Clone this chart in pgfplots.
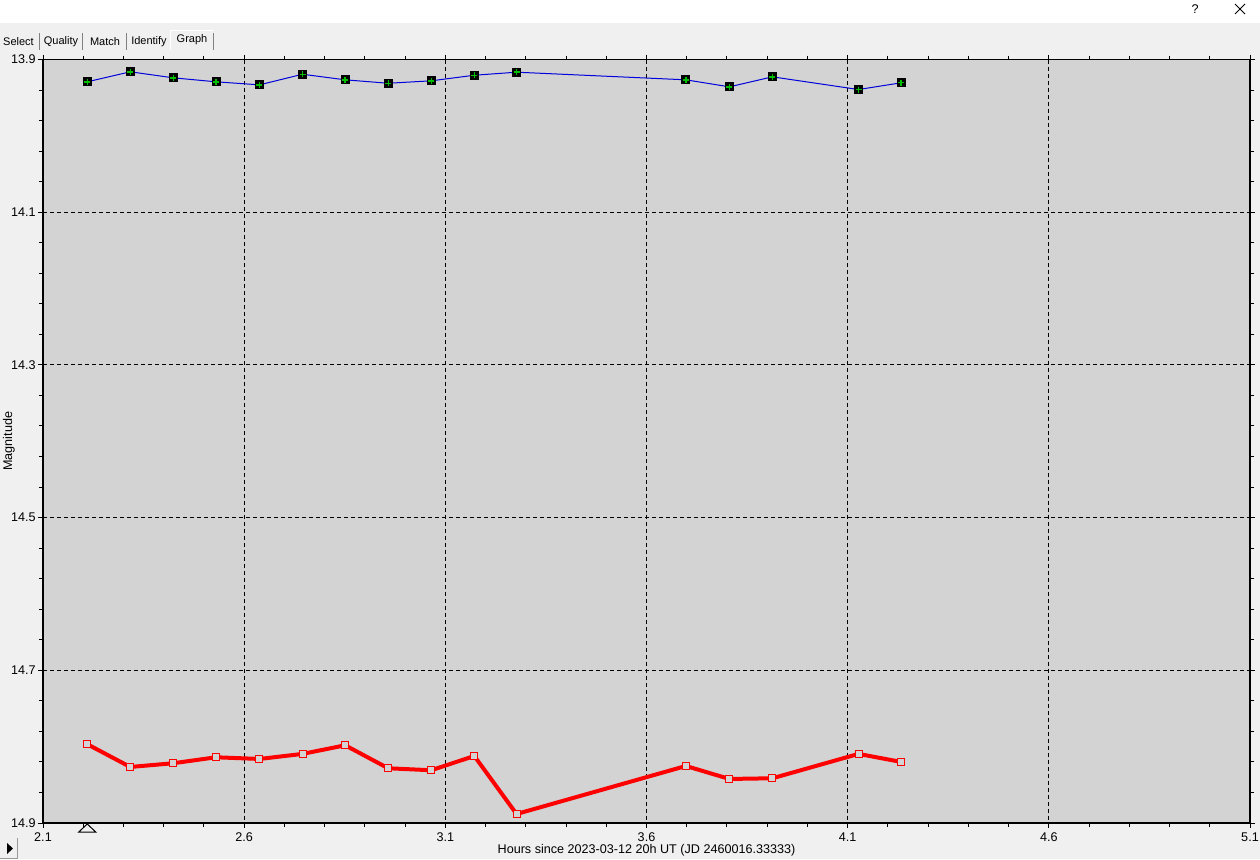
\documentclass[border=0pt]{standalone}
\usepackage{fontspec}
\setmainfont{Liberation Sans}
\usepackage{pgfplots}
\pgfplotsset{compat=1.18}

\definecolor{winbg}{RGB}{240,240,240}
\definecolor{plotbg}{RGB}{211,211,211}
\definecolor{markgreen}{RGB}{0,190,0}
\definecolor{lineblue}{RGB}{0,0,220}

% measured star magnitudes (x = hours, y = mag)
\pgfplotstableread{
x y
2.210 13.9292
2.317 13.9161
2.424 13.9240
2.530 13.9292
2.638 13.9332
2.745 13.9193
2.851 13.9266
2.958 13.9311
3.065 13.9279
3.172 13.9206
3.277 13.9166
3.698 13.9266
3.806 13.9358
3.913 13.9227
4.127 13.9393
4.233 13.9305
}\compstar
\pgfplotstableread{
x y
2.210 14.7968
2.317 14.8266
2.424 14.8217
2.530 14.8139
2.638 14.8161
2.745 14.8095
2.851 14.7982
2.958 14.8283
3.065 14.8309
3.172 14.8122
3.277 14.8882
3.698 14.8253
3.806 14.8423
3.913 14.8414
4.127 14.8095
4.233 14.8200
}\target

\begin{document}
\begin{tikzpicture}[x=0.5pt,y=0.5pt,font=\fontsize{6.3}{7.5}\selectfont]
\useasboundingbox (0,0) rectangle (1260,859);
\fill[winbg] (0,0) rectangle (1260,859);
\fill[white] (0,836) rectangle (1260,859);
% window chrome
\node at (1195,850) {?};
\draw[line width=0.5pt] (1235,845) -- (1245,855) (1235,855) -- (1245,845);
\begin{scope}[font=\fontsize{5.5}{6.6}\selectfont, inner sep=0pt]
\node at (18.5,817) {Select};
\node at (61,817) {Quality};
\node at (105,817) {Match};
\node at (149,817) {Identify};
\node at (192,819) {Graph};
\end{scope}
\foreach \sx in {39,82,126,213} \draw[gray,line width=0.5pt] (\sx,809) -- (\sx,826);
\draw[white,line width=0.5pt] (170,809) -- (170,828) -- (213,828);
% small button bottom left
\fill[winbg] (0,0) rectangle (18,21);
\draw[gray!80,line width=0.5pt] (0,0.3) -- (17.7,0.3) -- (17.7,21);
\fill[black] (7,5) -- (7,16) -- (13,10.5) -- cycle;

\begin{axis}[
  at={(21.5pt,18pt)}, anchor=south west,
  scale only axis, width=603.5pt, height=381.75pt,
  xmin=2.1, xmax=5.1, ymin=13.9, ymax=14.9, y dir=reverse,
  xtick={2.1,2.6,3.1,3.6,4.1,4.6,5.1},
  ytick={13.9,14.1,14.3,14.5,14.7,14.9},
  minor x tick num=4, minor y tick num=4,
  axis background/.style={fill=plotbg},
  grid=major,
  major grid style={black, line width=0.5pt, dash pattern=on 2pt off 1.5pt},
  tick align=outside, major tick length=2.5pt, minor tick length=2pt,
  tick style={black, line width=0.5pt},
  axis line style={line width=0.6pt},
  /pgf/number format/assume math mode=true,
  /pgf/number format/.cd, fixed, precision=1, fixed zerofill,
  /pgfplots/.cd,
  xticklabel style={inner sep=1pt, yshift=-1pt},
  yticklabel style={inner sep=1pt},
  xlabel={Hours since 2023-03-12 20h UT (JD 2460016.33333)},
  ylabel={Magnitude},
  xlabel style={at={(axis description cs:0.5,0)}, anchor=center, yshift=-13.5pt},
  ylabel style={at={(axis description cs:-0.0282,0.5)}, anchor=center},
  clip=false,
]
\addplot[lineblue, line width=0.5pt, mark=square*, mark size=2pt,
  mark options={fill=black, draw=black}] table {\compstar};
\addplot[only marks, mark=+, mark size=1.5pt,
  mark options={markgreen, line width=0.7pt}] table {\compstar};
\addplot[red, line width=2pt, mark=square*, mark size=1.75pt,
  mark options={fill=plotbg, draw=red, line width=0.5pt}] table {\target};
\addplot[only marks, mark=triangle*, mark size=2.67pt,
  mark options={xscale=1.84, fill=winbg, draw=black, line width=0.5pt}]
  coordinates {(2.210,14.9083)};
\end{axis}
\end{tikzpicture}
\end{document}
